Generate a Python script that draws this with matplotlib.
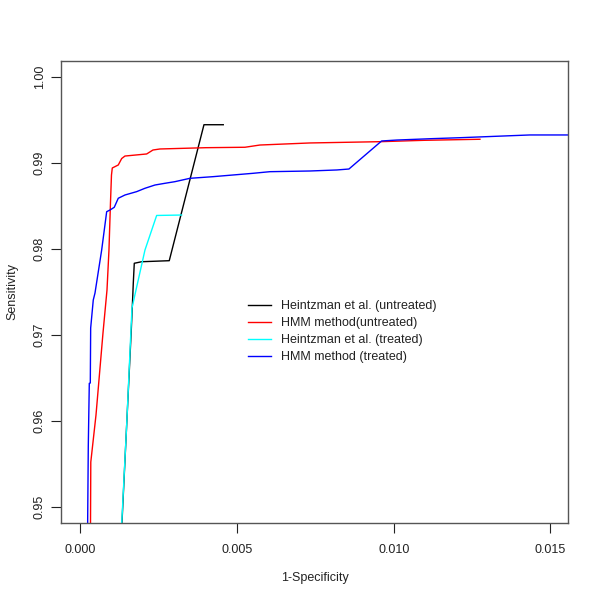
import matplotlib
matplotlib.use("Agg")
import matplotlib.pyplot as plt

plt.rcParams['font.family'] = ['Liberation Sans', 'DejaVu Sans']

# Heintzman et al. (untreated)
heu_x = [0.001315, 0.001474, 0.001621, 0.001659, 0.001685, 0.001717, 0.001953, 0.002833, 0.003941, 0.004557]
heu_y = [0.9475, 0.95953, 0.97058, 0.97372, 0.97601, 0.97834, 0.97852, 0.97864, 0.99445, 0.99445]

# HMM method (untreated)
hmu_x = [0.000319, 0.000329, 0.000495, 0.000718, 0.000846, 0.000909, 0.000957, 0.000989, 0.001015,
         0.001206, 0.001315, 0.00142, 0.002112, 0.002313, 0.002536, 0.004004, 0.005249, 0.005727,
         0.007323, 0.009588, 0.01099, 0.01275]
hmu_y = [0.9475, 0.95523, 0.9607, 0.97023, 0.97523, 0.97988, 0.98535, 0.9886, 0.98942,
         0.98977, 0.99052, 0.99081, 0.99105, 0.99151, 0.99163, 0.99178, 0.99183, 0.99209,
         0.99233, 0.99248, 0.99264, 0.99276]

# Heintzman et al. (treated)
het_x = [0.001308, 0.001474, 0.001611, 0.001643, 0.002058, 0.002431, 0.003229]
het_y = [0.9475, 0.95953, 0.97058, 0.97314, 0.97988, 0.98390, 0.98395]

# HMM method (treated)
hmt_x = [0.000227, 0.000249, 0.000281, 0.000313, 0.000325, 0.000408, 0.000463, 0.000676, 0.000836,
         0.000941, 0.001078, 0.001206, 0.00142, 0.001793, 0.002058, 0.002377, 0.002696, 0.003015,
         0.003494, 0.004228, 0.005504, 0.006046, 0.007323, 0.008184, 0.008568, 0.009611, 0.010099,
         0.011216, 0.012109, 0.014342, 0.0160]
hmt_y = [0.9475, 0.95709, 0.96438, 0.96442, 0.97081, 0.97407, 0.97488, 0.97988, 0.98434,
         0.98453, 0.98485, 0.9859, 0.98628, 0.98667, 0.98706, 0.98744, 0.98764, 0.98783,
         0.98822, 0.98841, 0.9888, 0.98899, 0.98907, 0.98919, 0.9893, 0.99256, 0.99267,
         0.99283, 0.99294, 0.99326, 0.99326]

labels = ["Heintzman et al. (untreated)", "HMM method(untreated)",
          "Heintzman et al. (treated)", "HMM method (treated)"]
colors = ["black", "#FF0000", "#00FFFF", "#0000FF"]

xticks = [0.000, 0.005, 0.010, 0.015]
xtick_labels = ["0.000", "0.005", "0.010", "0.015"]
yticks = [0.95, 0.96, 0.97, 0.98, 0.99, 1.00]
ytick_labels = ["0.95", "0.96", "0.97", "0.98", "0.99", "1.00"]

fig = plt.figure(figsize=(6, 6), dpi=100)
ax = fig.add_axes([61/600, 1-523/600, (568-61)/600, (523-61)/600])

l1, = ax.plot(heu_x, heu_y, color=colors[0], lw=1)
l2, = ax.plot(hmu_x, hmu_y, color=colors[1], lw=1)
l3, = ax.plot(het_x, het_y, color=colors[2], lw=1)
l4, = ax.plot(hmt_x, hmt_y, color=colors[3], lw=1)

ax.set_xlim(-0.000622, 0.01556)
ax.set_ylim(0.94814, 1.00186)

ax.set_xticks(xticks)
ax.set_xticklabels(xtick_labels)
ax.set_yticks(yticks)
ax.set_yticklabels(ytick_labels, rotation=90, va='center')
ax.tick_params(direction='out', length=7, width=0.8, labelsize=9, colors='#222222')
ax.tick_params(axis='x', pad=8)
ax.tick_params(axis='y', pad=4)
for s in ax.spines.values():
    s.set_color('#555555')
    s.set_linewidth(1)

ax.set_xlabel("1-Specificity", fontsize=9, color='#222222')
ax.set_ylabel("Sensitivity", fontsize=9, color='#222222')
ax.xaxis.set_label_coords(0.5, (523-578)/462)
ax.xaxis.label.set_va('center')
ax.yaxis.set_label_coords((12-61)/507, 0.5)
ax.yaxis.label.set_va('center')

leg = ax.legend([l1, l2, l3, l4], labels, loc='upper left', frameon=False,
                bbox_to_anchor=(248/600, 1-300/600), bbox_transform=fig.transFigure,
                fontsize=9, handlelength=1.85, handletextpad=0.8, labelspacing=0.4,
                borderpad=0, borderaxespad=0)
for t in leg.get_texts():
    t.set_color('#222222')

fig.savefig("out.png", dpi=100)
